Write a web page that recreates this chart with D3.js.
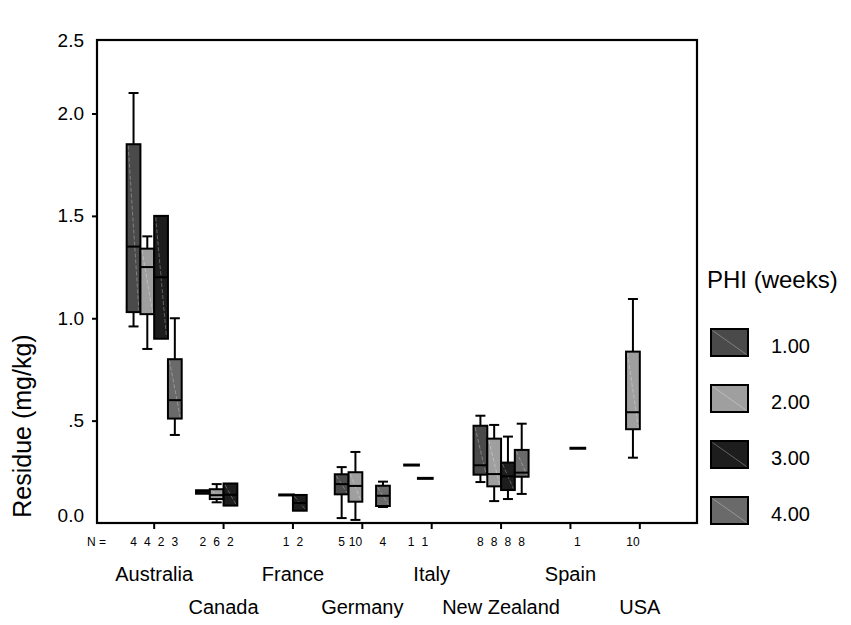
<!DOCTYPE html>
<html>
<head>
<meta charset="utf-8">
<script src="https://cdn.jsdelivr.net/npm/d3@7"></script>
<style>
  body { margin: 0; background: #fff; }
  svg { display: block; font-family: "Liberation Sans", Arial, sans-serif; }
</style>
</head>
<body>
<div class="container"></div>
<script>
// categories and groups
var countries = ["Australia", "Canada", "France", "Germany", "Italy", "New Zealand", "Spain", "USA"];
var phiLevels = ["1.00", "2.00", "3.00", "4.00"];
var phiColors = ["#4a4a4a", "#9f9f9f", "#1d1d1d", "#6a6a6a"];

// one entry per box
var groupCountry = ["Australia", "Australia", "Australia", "Australia",
                    "Canada", "Canada", "Canada",
                    "France", "France",
                    "Germany", "Germany", "Germany",
                    "Italy", "Italy",
                    "New Zealand", "New Zealand", "New Zealand", "New Zealand",
                    "Spain", "USA"];
var groupPhi    = ["1.00", "2.00", "3.00", "4.00", "1.00", "2.00", "3.00", "2.00", "3.00",
                   "1.00", "2.00", "4.00", "1.00", "2.00", "1.00", "2.00", "3.00", "4.00", "3.00", "2.00"];
var groupN      = [4, 4, 2, 3, 2, 6, 2, 1, 2, 5, 10, 4, 1, 1, 8, 8, 8, 8, 1, 10];
var groupMin    = [0.96, 0.85, 0.90, 0.43, 0.143, 0.101, 0.085, 0.137, 0.060, 0.024, 0.015, 0.078, 0.283, 0.218, 0.200, 0.107, 0.117, 0.142, 0.365, 0.319];
var groupQ1     = [1.03, 1.02, 0.90, 0.51, 0.143, 0.117, 0.085, 0.137, 0.060, 0.140, 0.104, 0.083, 0.283, 0.218, 0.236, 0.179, 0.161, 0.226, 0.365, 0.458];
var groupMedian = [1.35, 1.25, 1.20, 0.60, 0.152, 0.136, 0.138, 0.137, 0.098, 0.190, 0.181, 0.133, 0.283, 0.218, 0.282, 0.239, 0.228, 0.246, 0.365, 0.541];
var groupQ3     = [1.85, 1.34, 1.50, 0.80, 0.160, 0.165, 0.193, 0.137, 0.137, 0.238, 0.248, 0.182, 0.283, 0.218, 0.475, 0.412, 0.295, 0.357, 0.365, 0.837];
var groupMax    = [2.10, 1.40, 1.50, 1.00, 0.160, 0.190, 0.193, 0.137, 0.137, 0.273, 0.347, 0.202, 0.283, 0.218, 0.524, 0.479, 0.422, 0.485, 0.365, 1.094];

var yTickValues = [0, 0.5, 1.0, 1.5, 2.0, 2.5];
var yTickLabels = ["0.0", ".5", "1.0", "1.5", "2.0", "2.5"];

var groups = groupCountry.map(function(c, i) {
  return {country: c, phi: groupPhi[i], n: groupN[i], min: groupMin[i], q1: groupQ1[i],
          median: groupMedian[i], q3: groupQ3[i], max: groupMax[i]};
});

/* ===== SET UP CHART ===== */
var w = 851, h = 625;
var plot = {left: 97, right: 697, top: 40, bottom: 523};

var svg = d3.select('.container')
  .append('svg')
  .attr('width', w)
  .attr('height', h);

var x = d3.scaleBand()
  .domain(countries)
  .range([plot.left + 22.5, plot.right - 22.5]);
var sub = d3.scaleBand()
  .domain(phiLevels)
  .range([0, x.bandwidth()])
  .paddingOuter(0.52);
var y = d3.scaleLinear()
  .domain([0, 2.359])
  .range([plot.bottom, plot.top])
  .clamp(true);
var color = d3.scaleOrdinal().domain(phiLevels).range(phiColors);

// frame
svg.append('rect')
  .attr('x', plot.left).attr('y', plot.top)
  .attr('width', plot.right - plot.left)
  .attr('height', plot.bottom - plot.top)
  .attr('fill', 'none')
  .attr('stroke', '#000')
  .attr('stroke-width', 2.2);

/* --- Y axis --- */
var yAxis = svg.append('g')
  .attr('transform', 'translate(' + plot.left + ',0)')
  .call(d3.axisLeft(y)
    .tickValues(yTickValues)
    .tickSize(5)
    .tickPadding(8)
    .tickFormat(function(d, i) { return yTickLabels[i]; }));
yAxis.select('.domain').remove();
yAxis.selectAll('line').attr('stroke-width', 2)
  .filter(function(d) { return d === 0 || d === 2.5; }).remove();
yAxis.selectAll('text')
  .style('font-size', '19px')
  .attr('fill', '#000')
  .attr('dy', function(d) { return d === 0 ? '-0.1em' : '0.32em'; });

/* --- X axis --- */
var xAxis = svg.append('g')
  .attr('transform', 'translate(0,' + plot.bottom + ')')
  .call(d3.axisBottom(x).tickSize(6).tickPadding(0));
xAxis.select('.domain').remove();
xAxis.selectAll('line').attr('stroke-width', 2);
xAxis.selectAll('text')
  .style('font-size', '20px')
  .attr('fill', '#000')
  .attr('dy', 0)
  .attr('y', function(d, i) { return i % 2 ? 91 : 58; });

// N = counts
svg.append('text')
  .attr('x', 106).attr('y', 546)
  .attr('text-anchor', 'end')
  .attr('fill', '#000')
  .style('font-size', '12px')
  .text('N =');
svg.selectAll('.ncount')
  .data(groups)
  .enter().append('text')
  .attr('class', 'ncount')
  .attr('x', function(d) { return x(d.country) + sub(d.phi) + sub.bandwidth() / 2; })
  .attr('y', 546)
  .attr('text-anchor', 'middle')
  .attr('fill', '#000')
  .style('font-size', '12px')
  .text(function(d) { return d.n; });

/* ===== BOXES ===== */
var capW = 10;
var box = svg.selectAll('.box')
  .data(groups)
  .enter().append('g')
  .attr('class', 'box')
  .attr('transform', function(d) { return 'translate(' + (x(d.country) + sub(d.phi)) + ',0)'; });

var bw = sub.bandwidth();

// single values: just a thick line
box.filter(function(d) { return d.n === 1; })
  .append('line')
  .attr('x1', -1).attr('x2', bw + 2)
  .attr('y1', function(d) { return y(d.median); })
  .attr('y2', function(d) { return y(d.median); })
  .attr('stroke', '#000')
  .attr('stroke-width', 3);

var multi = box.filter(function(d) { return d.n > 1; });

// whiskers
multi.filter(function(d) { return d.max > d.q3; }).each(function(d) {
  var g = d3.select(this);
  g.append('line').attr('x1', bw / 2).attr('x2', bw / 2)
    .attr('y1', y(d.max)).attr('y2', y(d.q3))
    .attr('stroke', '#000').attr('stroke-width', 2);
  g.append('line').attr('x1', bw / 2 - capW / 2).attr('x2', bw / 2 + capW / 2)
    .attr('y1', y(d.max)).attr('y2', y(d.max))
    .attr('stroke', '#000').attr('stroke-width', 2);
});
multi.filter(function(d) { return d.min < d.q1; }).each(function(d) {
  var g = d3.select(this);
  g.append('line').attr('x1', bw / 2).attr('x2', bw / 2)
    .attr('y1', y(d.q1)).attr('y2', y(d.min))
    .attr('stroke', '#000').attr('stroke-width', 2);
  g.append('line').attr('x1', bw / 2 - capW / 2).attr('x2', bw / 2 + capW / 2)
    .attr('y1', y(d.min)).attr('y2', y(d.min))
    .attr('stroke', '#000').attr('stroke-width', 2);
});

// box body
multi.append('rect')
  .attr('x', 0)
  .attr('y', function(d) { return y(d.q3); })
  .attr('width', bw)
  .attr('height', function(d) { return y(d.q1) - y(d.q3); })
  .attr('fill', function(d) { return color(d.phi); })
  .attr('stroke', '#000')
  .attr('stroke-width', 2);

// faint diagonal in the fill
multi.append('line')
  .attr('x1', 1.5).attr('x2', bw - 1.5)
  .attr('y1', function(d) { return y(d.q3) + 1.5; })
  .attr('y2', function(d) { return y(d.q1) - 1.5; })
  .attr('stroke', 'rgba(255,255,255,0.3)')
  .attr('stroke-width', 1)
  .attr('stroke-dasharray', '4,2');

// median
multi.append('line')
  .attr('x1', 0).attr('x2', bw)
  .attr('y1', function(d) { return y(d.median); })
  .attr('y2', function(d) { return y(d.median); })
  .attr('stroke', '#000')
  .attr('stroke-width', 2);

/* ===== LABELS ===== */
svg.append('text')
  .attr('transform', 'translate(31,426) rotate(-90)')
  .attr('text-anchor', 'middle')
  .style('font-size', '25px')
  .text('Residue (mg/kg)');

/* ===== LEGEND ===== */
var legendY = d3.scalePoint().domain(phiLevels).range([329, 497]);

svg.append('text')
  .attr('x', 707).attr('y', 288)
  .style('font-size', '24px')
  .text('PHI (weeks)');

var leg = svg.selectAll('.leg')
  .data(phiLevels)
  .enter().append('g')
  .attr('class', 'leg')
  .attr('transform', function(d) { return 'translate(711,' + legendY(d) + ')'; });

leg.append('rect')
  .attr('width', 37).attr('height', 27)
  .attr('fill', function(d) { return color(d); })
  .attr('stroke', '#000')
  .attr('stroke-width', 2);
leg.append('line')
  .attr('x1', 1.5).attr('y1', 1.5).attr('x2', 35.5).attr('y2', 25.5)
  .attr('stroke', 'rgba(255,255,255,0.3)')
  .attr('stroke-width', 1);
leg.append('text')
  .attr('x', 60).attr('y', 24)
  .style('font-size', '20px')
  .text(function(d) { return d; });
</script>
</body>
</html>
